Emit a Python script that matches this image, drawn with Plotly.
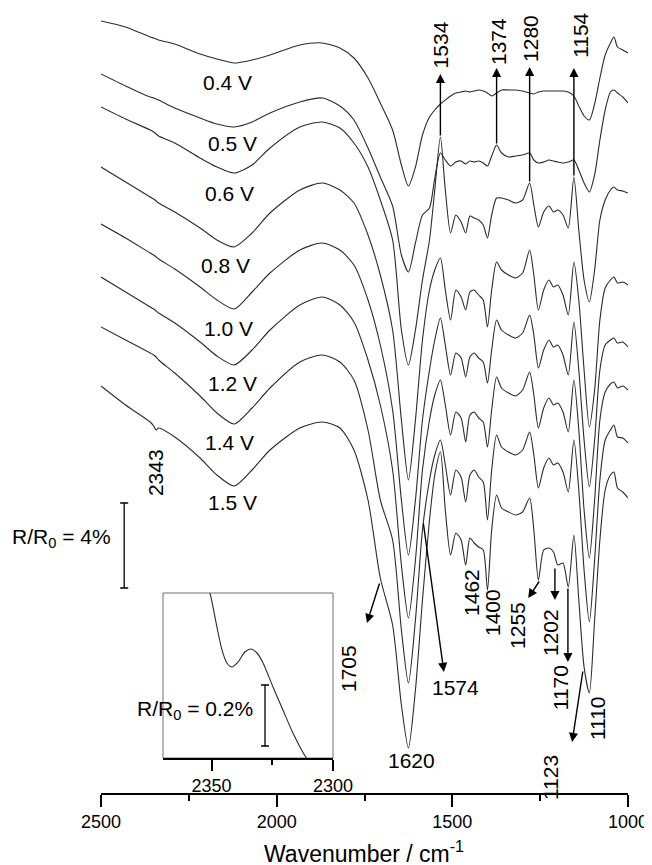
import plotly.graph_objects as go

W, H = 652, 865
OFF = 8  # page offset of the plot inside the browser page

# ---------------- data ----------------
wavenumber = [2500, 2430, 2360, 2350, 2343, 2336, 2290, 2218, 2170, 2121,
              2070, 2019, 1934, 1870, 1820, 1780, 1740, 1705, 1670, 1645,
              1625, 1605, 1585, 1565, 1550, 1534, 1520, 1505, 1490, 1475,
              1462, 1450, 1438, 1425, 1412, 1400, 1388, 1374, 1360, 1340,
              1320, 1300, 1280, 1268, 1255, 1240, 1225, 1212, 1200, 1185,
              1170, 1154, 1140, 1125, 1110, 1095, 1080, 1065, 1050, 1040,
              1030, 1015, 1000]

potential_labels = ["0.4 V", "0.5 V", "0.6 V", "0.8 V", "1.0 V", "1.2 V", "1.4 V", "1.5 V"]
label_wn = [2141, 2127, 2133, 2147, 2138, 2127, 2133, 2127]
label_y = [82, 143, 193, 265, 328, 383, 442, 502]

# spectra (stacked, arbitrary units: larger = lower on the page)
s_04 = [21, 27, 37, 38, 39, 40, 44, 54, 59, 63,
        60, 55, 45, 43, 48, 58, 78, 103, 130, 165,
        186, 167, 135, 117, 110, 104, 100, 96, 93, 92,
        91, 92, 91, 90, 91, 93, 96, 93, 90, 90,
        90, 91, 93, 94, 92, 91, 91, 91, 91, 91,
        92, 96, 106, 116, 120, 104, 78, 55, 43, 37,
        47, 50, 53]
s_05 = [74, 86, 97, 98, 99, 100, 108, 118, 124, 127,
        122, 113, 102, 98, 106, 120, 148, 177, 206, 255,
        272, 243, 215, 208, 178, 153, 160, 166, 162, 161,
        164, 161, 162, 161, 163, 166, 156, 145, 153, 157,
        156, 155, 153, 160, 163, 162, 160, 161, 162, 163,
        162, 160, 170, 183, 192, 175, 140, 110, 92, 90,
        93, 97, 103]
s_06 = [107, 119, 130, 132, 134, 136, 143, 158, 167, 173,
        165, 148, 127, 122, 128, 143, 167, 200, 240, 330,
        365, 330, 280, 240, 190, 137, 190, 233, 215, 222,
        233, 216, 218, 220, 225, 238, 215, 198, 198, 200,
        203, 200, 183, 205, 227, 212, 206, 212, 210, 215,
        228, 177, 230, 280, 302, 270, 220, 200, 190, 187,
        190, 191, 193]
s_08 = [167, 182, 197, 199, 201, 203, 212, 228, 240, 247,
        233, 213, 190, 183, 190, 203, 235, 275, 330, 420,
        480, 420, 340, 290, 270, 258, 290, 320, 290, 297,
        310, 292, 290, 295, 300, 327, 290, 262, 270, 275,
        278, 273, 250, 275, 310, 290, 280, 287, 285, 295,
        315, 262, 300, 370, 427, 390, 320, 288, 280, 277,
        283, 282, 285]
s_10 = [224, 238, 253, 255, 257, 259, 269, 287, 300, 309,
        292, 273, 250, 243, 250, 265, 300, 345, 410, 500,
        555, 500, 420, 370, 340, 318, 345, 375, 353, 358,
        377, 357, 353, 358, 362, 383, 350, 320, 330, 335,
        338, 333, 315, 335, 368, 350, 340, 347, 345, 355,
        375, 322, 370, 440, 487, 440, 370, 345, 340, 338,
        343, 342, 347]
s_12 = [277, 292, 307, 309, 311, 313, 323, 342, 356, 365,
        350, 330, 305, 297, 305, 322, 360, 405, 470, 565,
        618, 560, 470, 420, 395, 380, 405, 435, 412, 418,
        442, 415, 412, 418, 422, 447, 410, 377, 388, 393,
        396, 390, 372, 395, 428, 408, 398, 405, 403, 412,
        432, 380, 430, 510, 558, 500, 420, 392, 384, 382,
        388, 386, 390]
s_14 = [327, 340, 353, 355, 357, 360, 373, 396, 413, 424,
        408, 388, 362, 355, 362, 380, 430, 500, 540, 630,
        683, 620, 530, 480, 455, 440, 465, 495, 470, 477,
        502, 475, 470, 477, 482, 520, 470, 435, 447, 452,
        455, 450, 432, 455, 488, 468, 458, 465, 463, 472,
        492, 440, 490, 570, 622, 560, 480, 440, 430, 425,
        437, 438, 443]
s_15 = [386, 405, 422, 426, 430, 428, 437, 458, 475, 486,
        470, 450, 428, 422, 428, 450, 500, 578, 625, 705,
        748, 690, 600, 520, 475, 452, 510, 555, 533, 540,
        565, 538, 543, 547, 550, 590, 530, 495, 508, 512,
        515, 512, 498, 530, 580, 550, 548, 552, 565, 563,
        587, 535, 600, 667, 693, 620, 540, 490, 475, 472,
        488, 492, 498]
spectra = [s_04, s_05, s_06, s_08, s_10, s_12, s_14, s_15]

# inset (CO2 band near 2343 cm-1 of the 1.5 V spectrum)
inset_wn = [2352, 2350.7, 2347.8, 2345.7, 2343.7, 2341.6, 2339.1, 2336.3, 2333.8,
            2331.3, 2328.8, 2324.7, 2320.6, 2316.5, 2311.2, 2309]
inset_val = [586, 593, 627, 650, 663, 667, 662, 652, 649,
             653, 663, 687, 710, 733, 757, 763]

main_ticks = [2500, 2000, 1500, 1000]
main_minor = [2250, 1750, 1250]
inset_ticks = [2350, 2300]
inset_minor = [2325]

# peak labels: (text, wn, y, angle)
peak_labels = [("1534", 1534, 45, -90), ("1374", 1370, 42, -90), ("1280", 1279, 38, -90),
               ("1154", 1137, 35, -90), ("1620", 1615, 760, 0), ("1574", 1492, 687, 0),
               ("1705", 1797, 668, -90), ("1462", 1447, 592, -90), ("1400", 1387, 613, -90),
               ("1255", 1316, 625, -90), ("1202", 1222, 633, -90), ("1170", 1193, 688, -90),
               ("1110", 1088, 718, -90), ("1123", 1222, 778, -90), ("2343", 2346, 473, -90)]
# arrows: (tail wn, tail y, tip wn, tip y)
arrows = [(1534, 137, 1534, 74), (1374, 145, 1374, 68), (1280, 183, 1280, 67),
          (1154, 177, 1154, 68), (1706, 582, 1743, 623), (1583, 522, 1524, 672),
          (1250, 580, 1284, 598), (1208, 567, 1208, 600), (1171, 587, 1171, 662),
          (1128, 670, 1159, 742)]


def fx(px):
    return (px - OFF) / W


def fy(py):
    return 1 - (py - OFF) / H


# ---------------- figure ----------------
FONT = "Liberation Sans, Arial, Helvetica, sans-serif"
fig = go.Figure()
for s in spectra:
    fig.add_trace(go.Scatter(x=wavenumber, y=s, mode="lines",
                             line=dict(color="#2b2b2b", width=1.1, shape="spline", smoothing=0.7),
                             hoverinfo="skip", showlegend=False))

fig.add_trace(go.Scatter(x=inset_wn, y=inset_val, mode="lines", xaxis="x2", yaxis="y2",
                         line=dict(color="#2b2b2b", width=1.1, shape="spline", smoothing=0.8),
                         hoverinfo="skip", showlegend=False))

# scale bars (error bars)
fig.add_trace(go.Scatter(x=[2434], y=[545.5], mode="markers", marker=dict(size=0.1, color="black"),
                         error_y=dict(type="data", array=[42.5], color="black", thickness=1.3, width=4),
                         hoverinfo="skip", showlegend=False))
fig.add_trace(go.Scatter(x=[2328], y=[715.5], mode="markers", xaxis="x2", yaxis="y2",
                         marker=dict(size=0.1, color="black"),
                         error_y=dict(type="data", array=[30.5], color="black", thickness=1.3, width=4),
                         hoverinfo="skip", showlegend=False))

ann = []
for t, wn, y in zip(potential_labels, label_wn, label_y):
    ann.append(dict(x=wn, y=y, xref="x", yref="y", text=t, showarrow=False,
                    xanchor="center", yanchor="middle",
                    font=dict(size=21, family=FONT, color="black")))
for t, wn, y, ang in peak_labels:
    ann.append(dict(x=wn, y=y, xref="x", yref="y", text=t, showarrow=False, textangle=ang,
                    xanchor="center", yanchor="middle",
                    font=dict(size=21, family=FONT, color="black")))
for ax_, ay_, x_, y_ in arrows:
    ann.append(dict(x=x_, y=y_, ax=ax_, ay=ay_, xref="x", yref="y", axref="x", ayref="y",
                    text="", showarrow=True, arrowhead=2, arrowsize=1.3, arrowwidth=1.4,
                    arrowcolor="black", standoff=0))
ann.append(dict(x=fx(61), y=fy(538), xref="paper", yref="paper",
                xanchor="center", yanchor="middle",
                text="R/R<sub>0</sub> = 4%", showarrow=False,
                font=dict(size=21, family=FONT, color="black")))
ann.append(dict(x=fx(195), y=fy(710), xref="paper", yref="paper",
                xanchor="center", yanchor="middle",
                text="R/R<sub>0</sub> = 0.2%", showarrow=False,
                font=dict(size=21, family=FONT, color="black")))
ann.append(dict(x=fx(364), y=fy(852), xref="paper", yref="paper",
                xanchor="center", yanchor="middle",
                text="Wavenumber / cm<sup>-1</sup>", showarrow=False,
                font=dict(size=23, family=FONT, color="black")))

axis_common = dict(showline=True, linecolor="black", linewidth=1.5, ticks="outside",
                   tickcolor="black", tickwidth=1.5, showgrid=False, zeroline=False,
                   automargin=False,
                   tickfont=dict(size=18, family=FONT, color="black"))

fig.update_layout(
    width=W, height=H, margin=dict(l=0, r=0, t=0, b=0, pad=0, autoexpand=False),
    paper_bgcolor="white", plot_bgcolor="rgba(0,0,0,0)",
    font=dict(family=FONT, size=18, color="black"), showlegend=False,
    xaxis=dict(domain=[fx(101), fx(628)], range=[2500, 1000], anchor="y",
               tickvals=main_ticks, ticklen=12,
               minor=dict(tickvals=main_minor, ticklen=6, tickwidth=1.5, tickcolor="black", ticks="outside"),
               **axis_common),
    # top of figure shows y = OFF, bottom of main axis at y = 793
    yaxis=dict(domain=[fy(793), 1], range=[793, OFF], visible=False, fixedrange=True),
    xaxis2=dict(domain=[fx(163), fx(333)], range=[2370, 2300], anchor="y2",
                tickvals=inset_ticks, ticklen=11,
                minor=dict(tickvals=inset_minor, ticklen=5, tickwidth=1.5, tickcolor="black", ticks="outside"),
                **axis_common),
    yaxis2=dict(domain=[fy(758), fy(593)], range=[758, 593], visible=False),
    annotations=ann,
    shapes=[dict(type="rect", xref="x2 domain", yref="y2 domain", x0=0, x1=1, y0=0, y1=1,
                 line=dict(color="#707070", width=1), layer="below")],
)

fig.write_html("out.html")
